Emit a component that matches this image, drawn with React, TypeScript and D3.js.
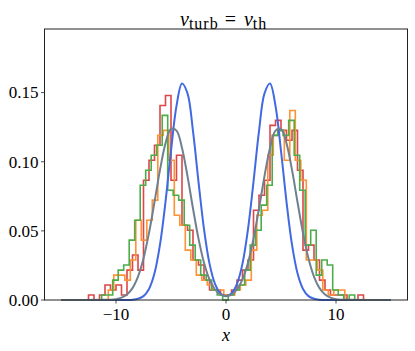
import React from 'react';
import * as d3 from 'd3';

const W = 415;
const H = 351;

// histogram bins (density), bin width 0.5
const binWidth = 0.5;
const redStart = -13.0;
const redValues = [
  0, 0.0036, 0, 0.0036, 0.0108, 0.0072, 0.0108, 0.0036, 0.0216, 0.0325, 0.0216, 0.0866, 0.1011,
  0.1119, 0.1407, 0.1479, 0.0866, 0.1047, 0.0541, 0.0505, 0.0289, 0.0253, 0.0144, 0.0072, 0.0072, 0.0036,
  0.0036, 0.0072, 0.0144, 0.0216, 0.0289, 0.0649, 0.0758, 0.0866, 0.1263, 0.1299, 0.1227, 0.1155, 0.1227,
  0.0938, 0.0361, 0.0397, 0.0289, 0.0144, 0.0072, 0.0036, 0.0036, 0.0036, 0, 0, 0.0036, 0,
];
const orangeStart = -12.7;
const orangeValues = [
  0, 0, 0, 0, 0.0072, 0.018, 0.018, 0.0144, 0.0289, 0.0577, 0.0433, 0.0577, 0.0722,
  0.1191, 0.1227, 0.1011, 0.0613, 0.0541, 0.0361, 0.0289, 0.018, 0.0144, 0.0108, 0.0072, 0.0072, 0.0036,
  0.0036, 0.0072, 0.0108, 0.0144, 0.0361, 0.0613, 0.0649, 0.1047, 0.1191, 0.1227, 0.1011, 0.1371, 0.1011,
  0.0866, 0.0289, 0.0289, 0.0216, 0.0072, 0.0036, 0.0072, 0.0072, 0, 0, 0, 0, 0,
];
const greenStart = -12.8;
const greenValues = [
  0, 0, 0, 0.0036, 0.0036, 0.0144, 0.0216, 0.0253, 0.0433, 0.0577, 0.083, 0.0938, 0.1047,
  0.1119, 0.1335, 0.0794, 0.0758, 0.0722, 0.0541, 0.0397, 0.0289, 0.018, 0.0144, 0.0072, 0.0036, 0,
  0.0036, 0.0072, 0.0108, 0.0216, 0.0397, 0.0505, 0.0686, 0.083, 0.1191, 0.1227, 0.1191, 0.1299, 0.1047,
  0.0794, 0.0397, 0.0505, 0.018, 0.0289, 0.0253, 0.0072, 0.0036, 0, 0.0036, 0, 0, 0,
];

const curveX = [
  -15, -11, -10.5, -10, -9.5, -9, -8.5, -8, -7.5, -7, -6.5, -6, -5.5, -5, -4.5, -4, -3.5, -3, -2.5, -2,
  -1.5, -1, -0.5, 0, 0.5, 1, 1.5, 2, 2.5, 3, 3.5, 4, 4.5, 5, 5.5, 6, 6.5, 7, 7.5, 8, 8.5, 9, 9.5, 10,
  10.5, 11, 15,
];
const blueValues = [
  0, 0, 0, 0, 0, 0, 0.0002, 0.0009, 0.0028, 0.008, 0.0193, 0.04, 0.071, 0.1079, 0.1404, 0.1565, 0.1494,
  0.1221, 0.0855, 0.0513, 0.0263, 0.0117, 0.0048, 0.0028, 0.0048, 0.0117, 0.0263, 0.0513, 0.0855, 0.1221,
  0.1494, 0.1565, 0.1404, 0.1079, 0.071, 0.04, 0.0193, 0.008, 0.0028, 0.0009, 0.0002, 0, 0, 0, 0, 0, 0,
];
const grayValues = [
  0, 0.0001, 0.0002, 0.0006, 0.0017, 0.004, 0.0086, 0.0169, 0.03, 0.0485, 0.0709, 0.0941, 0.1133, 0.1237,
  0.1225, 0.11, 0.0896, 0.0662, 0.0444, 0.027, 0.0149, 0.0076, 0.0039, 0.0028, 0.0039, 0.0076, 0.0149,
  0.027, 0.0444, 0.0662, 0.0896, 0.11, 0.1225, 0.1237, 0.1133, 0.0941, 0.0709, 0.0485, 0.03, 0.0169,
  0.0086, 0.004, 0.0017, 0.0006, 0.0002, 0.0001, 0,
];

const xTicks = [-10, 0, 10];
const yTicks = [0, 0.05, 0.1, 0.15];

const FONT = 'Liberation Serif, DejaVu Serif, serif';

export default function App() {
  const x = d3.scaleLinear().domain([-16.5, 16.5]).range([44.5, 407.5]);
  const y = d3.scaleLinear().domain([0, 0.196]).range([300, 29]);

  const histPath = (start: number, vals: number[]) => {
    const pts: [number, number][] = [[start, 0]];
    vals.forEach((v, i) => {
      pts.push([start + i * binWidth, v]);
      pts.push([start + (i + 1) * binWidth, v]);
    });
    pts.push([start + vals.length * binWidth, 0]);
    return d3.line<[number, number]>().x((d) => x(d[0])).y((d) => y(d[1]))(pts) || '';
  };

  const curvePath = (vals: number[]) =>
    d3
      .line<number>()
      .x((_, i) => x(curveX[i]))
      .y((d) => y(d))
      .curve(d3.curveCatmullRom.alpha(0.5))(vals) || '';

  const fmtX = (v: number) => (v < 0 ? '\u2212' + Math.abs(v) : String(v));

  return (
    <div style={{ position: 'fixed', left: 0, top: 0, width: W, height: H, background: '#fff' }}>
      <svg width={W} height={H} viewBox={`0 0 ${W} ${H}`} style={{ display: 'block', fontFamily: FONT }}>
        <rect x={0} y={0} width={W} height={H} fill="#fff" />
        <g fill="none" strokeWidth={1.6} strokeLinejoin="miter" opacity={0.85}>
          <path d={histPath(redStart, redValues)} stroke="#d62728" />
          <path d={histPath(orangeStart, orangeValues)} stroke="#ff7f0e" />
          <path d={histPath(greenStart, greenValues)} stroke="#2ca02c" />
        </g>
        <path d={curvePath(blueValues)} fill="none" stroke="#4169e1" strokeWidth={2} />
        <path d={curvePath(grayValues)} fill="none" stroke="#708090" strokeWidth={2} />
        <rect x={44.5} y={29} width={363} height={271} fill="none" stroke="#222" strokeWidth={1} />
        {xTicks.map((t) => (
          <g key={'x' + t}>
            <line x1={x(t)} x2={x(t)} y1={300} y2={303.5} stroke="#222" strokeWidth={0.8} />
            <text x={x(t)} y={320} textAnchor="middle" fontFamily={FONT} fontSize={17} fill="#000">
              {fmtX(t)}
            </text>
          </g>
        ))}
        {yTicks.map((t) => (
          <g key={'y' + t}>
            <line x1={41} x2={44.5} y1={y(t)} y2={y(t)} stroke="#222" strokeWidth={0.8} />
            <text x={38.5} y={y(t)} dy="0.34em" textAnchor="end" fontFamily={FONT} fontSize={17} fill="#000">
              {t.toFixed(2)}
            </text>
          </g>
        ))}
        <text x={226} y={341} textAnchor="middle" fontFamily={FONT} fontSize={18} fontStyle="italic" fill="#000">
          x
        </text>
        <text x={180} y={26} fontFamily={FONT} fontSize={20} fill="#000">
          <tspan fontStyle="italic">v</tspan>
          <tspan fontSize={16} dy={3} letterSpacing={1}>turb</tspan>
          <tspan dy={-3} dx={6}>=</tspan>
          <tspan dx={8} fontStyle="italic">v</tspan>
          <tspan fontSize={16} dy={3} letterSpacing={1}>th</tspan>
        </text>
      </svg>
    </div>
  );
}
